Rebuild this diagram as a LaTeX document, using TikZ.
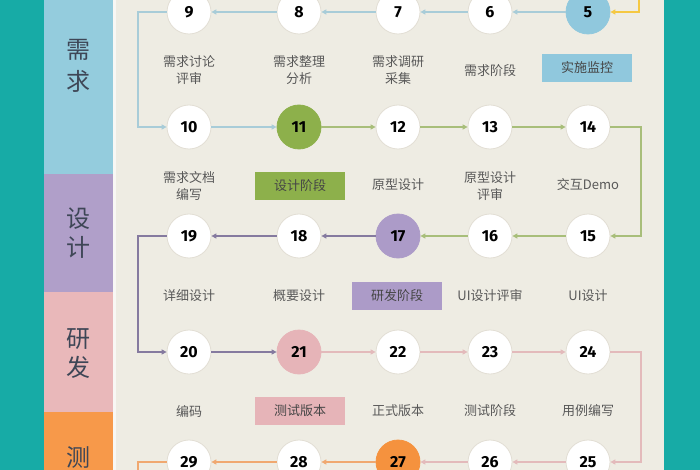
\documentclass[tikz,border=0pt]{standalone}
\usepackage{fontspec}
\setmainfont{Fira Sans}
\newfontfamily\cjk{Noto Sans CJK SC}
\usetikzlibrary{arrows.meta}
\definecolor{bgc}{HTML}{EEECE3}
\definecolor{tealc}{HTML}{17ABA6}
\definecolor{colblue}{HTML}{94CCDD}
\definecolor{colpurple}{HTML}{B09FC9}
\definecolor{colpink}{HTML}{E9B8BA}
\definecolor{colorange}{HTML}{F7994A}
\definecolor{circb}{HTML}{E2DED4}
\definecolor{fgreen}{HTML}{8DB04B}
\definecolor{fblue}{HTML}{90C8DD}
\definecolor{fpurple}{HTML}{AC9BC8}
\definecolor{fpink}{HTML}{E6B4B8}
\definecolor{forange}{HTML}{F5923E}
\definecolor{lblue}{HTML}{A8CCD8}
\definecolor{lgreen}{HTML}{A8BE7A}
\definecolor{lpurple}{HTML}{857A9F}
\definecolor{lpink}{HTML}{E3BABB}
\definecolor{lorange}{HTML}{F0A870}
\definecolor{lyellow}{HTML}{F5C842}
\definecolor{txtc}{HTML}{585858}
\definecolor{bigtxt}{HTML}{3E4656}
\begin{document}
\begin{tikzpicture}[x=1pt,y=-1pt,
  circ/.style={circle,minimum size=44pt,inner sep=0pt,fill=white,draw=circb,line width=0.8pt,
    font=\fontsize{16}{16}\selectfont\bfseries},
  lab/.style={align=center,text=txtc,font=\cjk\fontsize{13}{16.5}\selectfont,inner sep=0pt},
  boxlab/.style={minimum width=90pt,minimum height=28pt,inner sep=0pt,text=txtc!80!black,font=\cjk\fontsize{13}{16}\selectfont},
  big/.style={text=bigtxt,font=\cjk\fontsize{24}{24}\selectfont,inner sep=0pt},
  conn/.style={line width=1.1pt,-{Triangle[length=5pt,width=5pt]}},
  cb/.style={conn,draw=lblue,color=lblue},
  cg/.style={conn,draw=lgreen,color=lgreen},
  cp/.style={conn,draw=lpurple,color=lpurple},
  ck/.style={conn,draw=lpink,color=lpink},
  co/.style={conn,draw=lorange,color=lorange},
  cy/.style={conn,draw=lyellow,color=lyellow}]
\useasboundingbox (0,0) rectangle (700,470);
\fill[bgc] (0,0) rectangle (700,470);
\fill[tealc] (0,0) rectangle (44,470);
\fill[tealc] (664,0) rectangle (700,470);
\fill[colblue] (44,0) rectangle (113,174);
\fill[colpurple] (44,174) rectangle (113,292);
\fill[colpink] (44,292) rectangle (113,412);
\fill[colorange] (44,412) rectangle (113,470);
\fill[white!60!bgc] (113,0) rectangle (116,470);
\node[big] (s1) at (78,50) {需};
\node[big] (s2) at (78,81) {求};
\node[big] (s3) at (78,219) {设};
\node[big] (s4) at (78,247) {计};
\node[big] (s5) at (78,339) {研};
\node[big] (s6) at (78,367) {发};
\node[big] (s7) at (78,457) {测};
\coordinate (bl) at (138,0);
\coordinate (br) at (641,0);
\coordinate (ytop) at (639,0);
\coordinate (obot) at (138,470);
% row 1
\node[circ] (c9) at (189,12) {9};
\node[circ] (c8) at (299,12) {8};
\node[circ] (c7) at (398,12) {7};
\node[circ] (c6) at (490,12) {6};
\node[circ,fill=fblue,draw=fblue] (c5) at (588,12) {5};
% row 2
\node[circ] (c10) at (189,127) {10};
\node[circ,fill=fgreen,draw=fgreen] (c11) at (299,127) {11};
\node[circ] (c12) at (398,127) {12};
\node[circ] (c13) at (490,127) {13};
\node[circ] (c14) at (588,127) {14};
% row 3
\node[circ] (c19) at (189,236) {19};
\node[circ] (c18) at (299,236) {18};
\node[circ,fill=fpurple,draw=fpurple] (c17) at (398,236) {17};
\node[circ] (c16) at (490,236) {16};
\node[circ] (c15) at (588,236) {15};
% row 4
\node[circ] (c20) at (189,352) {20};
\node[circ,fill=fpink,draw=fpink] (c21) at (299,352) {21};
\node[circ] (c22) at (398,352) {22};
\node[circ] (c23) at (490,352) {23};
\node[circ] (c24) at (588,352) {24};
% row 5
\node[circ] (c29) at (189,462) {29};
\node[circ] (c28) at (299,462) {28};
\node[circ,fill=forange,draw=forange] (c27) at (398,462) {27};
\node[circ] (c26) at (490,462) {26};
\node[circ] (c25) at (588,462) {25};
% labels
\node[lab] (l9) at (189,70) {需求讨论\\评审};
\node[lab] (l8) at (299,70) {需求整理\\分析};
\node[lab] (l7) at (398,70) {需求调研\\采集};
\node[lab] (l6) at (490,71) {需求阶段};
\node[boxlab,fill=fblue] (b5) at (587,68) {实施监控};
\node[lab] (l10) at (189,186) {需求文档\\编写};
\node[boxlab,fill=fgreen] (b11) at (300,186) {设计阶段};
\node[lab] (l12) at (398,185) {原型设计};
\node[lab] (l13) at (490,186) {原型设计\\评审};
\node[lab] (l14) at (588,185) {交互Demo};
\node[lab] (l19) at (189,296) {详细设计};
\node[lab] (l18) at (299,296) {概要设计};
\node[boxlab,fill=fpurple] (b17) at (397,296) {研发阶段};
\node[lab] (l16) at (490,296) {UI设计评审};
\node[lab] (l15) at (588,296) {UI设计};
\node[lab] (l20) at (189,411) {编码};
\node[boxlab,fill=fpink] (b21) at (300,411) {测试版本};
\node[lab] (l22) at (398,411) {正式版本};
\node[lab] (l23) at (490,411) {测试阶段};
\node[lab] (l24) at (588,411) {用例编写};
% connectors
\draw[cy] (ytop) |- (c5.east);
\draw[cb] (c5) -- (c6);
\draw[cb] (c6) -- (c7);
\draw[cb] (c7) -- (c8);
\draw[cb] (c8) -- (c9);
\draw[cb] (c9.west) -- (c9.west -| bl) |- (c10.west);
\draw[cb] (c10) -- (c11);
\draw[cg] (c11) -- (c12);
\draw[cg] (c12) -- (c13);
\draw[cg] (c13) -- (c14);
\draw[cg] (c14.east) -- (c14.east -| br) |- (c15.east);
\draw[cg] (c15) -- (c16);
\draw[cg] (c16) -- (c17);
\draw[cp] (c17) -- (c18);
\draw[cp] (c18) -- (c19);
\draw[cp] (c19.west) -- (c19.west -| bl) |- (c20.west);
\draw[cp] (c20) -- (c21);
\draw[ck] (c21) -- (c22);
\draw[ck] (c22) -- (c23);
\draw[ck] (c23) -- (c24);
\draw[ck] (c24.east) -- (c24.east -| br) |- (c25.east);
\draw[ck] (c25) -- (c26);
\draw[ck] (c26) -- (c27);
\draw[co] (c27) -- (c28);
\draw[co] (c28) -- (c29);
\draw[co,-] (c29.west) -| (obot);
\end{tikzpicture}
\end{document}
